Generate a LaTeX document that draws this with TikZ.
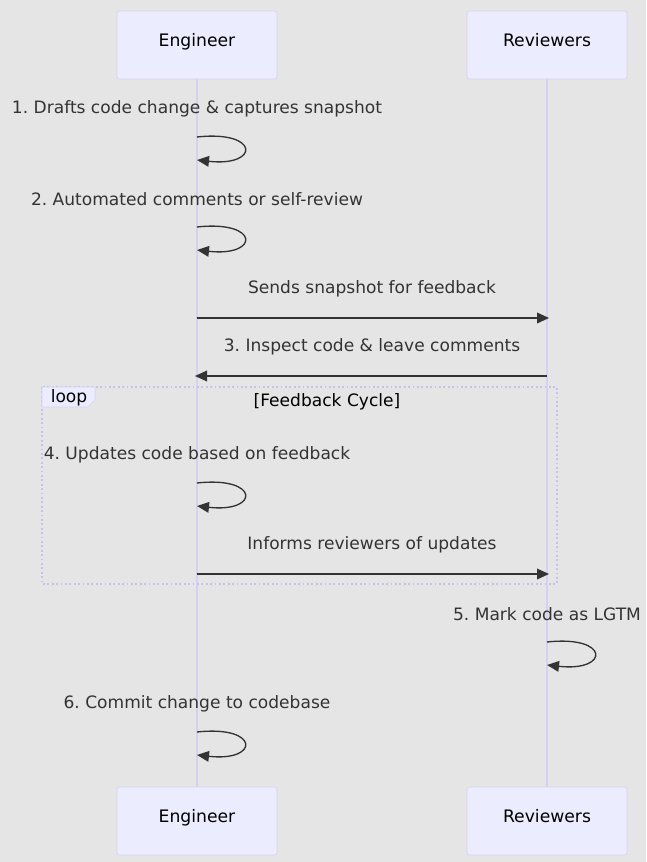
\documentclass[tikz,border=0pt]{standalone}
\usepackage{fontspec}
\setmainfont{DejaVu Sans}
\usepackage{tikz}
\usetikzlibrary{arrows.meta}
\definecolor{bgray}{RGB}{229, 229, 229}
\definecolor{actorfill}{RGB}{236, 236, 255}
\definecolor{actorline}{RGB}{216, 208, 240}
\definecolor{loopline}{RGB}{200, 192, 236}
\definecolor{msgtext}{RGB}{51, 51, 51}
\frenchspacing

\begin{document}
\begin{tikzpicture}[x=0.75pt, y=-0.75pt, >={Triangle[length=9pt,width=8pt]},
    actor/.style={draw=actorline, fill=actorfill, rounded corners=2pt, minimum width=120pt, minimum height=51pt, text height=9pt, text depth=7pt, font=\fontsize{12.9}{15}\selectfont, text=black},
    msg/.style={font=\fontsize{12.8}{15}\selectfont, text=msgtext},
    lifeline/.style={draw=actorline, line width=1.2pt},
    arrowline/.style={->, draw=msgtext, line width=1pt}]
    % background
    \fill[bgray] (0,0) rectangle (646,862);
    \useasboundingbox (0,0) rectangle (646,862);

    % Actors
    \node[actor] (engtop) at (197,45) {Engineer};
    \node[actor] (revtop) at (547,45) {Reviewers};
    \node[actor] (engbot) at (197,821) {Engineer};
    \node[actor] (revbot) at (547,821) {Reviewers};

    % Lifelines
    \draw[lifeline] (engtop.south) -- (engbot.north);
    \draw[lifeline] (revtop.south) -- (revbot.north);

    % Loop frame
    \draw[loopline, line width=1.3pt, dotted] (42,387) rectangle (557,584);
    \draw[actorline, fill=actorfill] (42,387) -- (95,387) -- (95,400) -- (88,407) -- (42,407) -- cycle;
    \node[msg, text=black] (looplbl) at (69,398) {loop};
    \node[msg, text=black] (loopcond) at (327,402) {[Feedback Cycle]};

    % 1. self message
    \node[msg] (m1) at (197,109) {1. Drafts code change \& captures snapshot};
    \coordinate (a1) at (197,137);
    \coordinate (b1) at (197,160);
    \draw[arrowline] (a1) .. controls (260,130) and (260,167) .. (b1);

    % 2. self message
    \node[msg] (m2) at (197,199) {2. Automated comments or self-review};
    \coordinate (a2) at (197,227);
    \coordinate (b2) at (197,250);
    \draw[arrowline] (a2) .. controls (260,220) and (260,257) .. (b2);

    % Engineer -> Reviewers
    \node[msg] (m3) at (372,289) {Sends snapshot for feedback};
    \coordinate (a3) at (197,318);
    \coordinate (b3) at (549,318);
    \draw[arrowline] (a3) -- (b3);

    % 3. Reviewers -> Engineer
    \node[msg] (m4) at (372,347) {3. Inspect code \& leave comments};
    \coordinate (a4) at (547,376);
    \coordinate (b4) at (195,376);
    \draw[arrowline] (a4) -- (b4);

    % 4. self message (loop)
    \node[msg] (m5) at (197,455) {4. Updates code based on feedback};
    \coordinate (a5) at (197,483);
    \coordinate (b5) at (197,506);
    \draw[arrowline] (a5) .. controls (260,476) and (260,513) .. (b5);

    % Engineer -> Reviewers (loop)
    \node[msg] (m6) at (372,545) {Informs reviewers of updates};
    \coordinate (a6) at (197,574);
    \coordinate (b6) at (549,574);
    \draw[arrowline] (a6) -- (b6);

    % 5. Reviewers self message
    \node[msg] (m7) at (547,614) {5. Mark code as LGTM};
    \coordinate (a7) at (547,642);
    \coordinate (b7) at (547,665);
    \draw[arrowline] (a7) .. controls (610,635) and (610,672) .. (b7);

    % 6. self message
    \node[msg] (m8) at (197,704) {6. Commit change to codebase};
    \coordinate (a8) at (197,732);
    \coordinate (b8) at (197,755);
    \draw[arrowline] (a8) .. controls (260,725) and (260,762) .. (b8);
\end{tikzpicture}
\end{document}
